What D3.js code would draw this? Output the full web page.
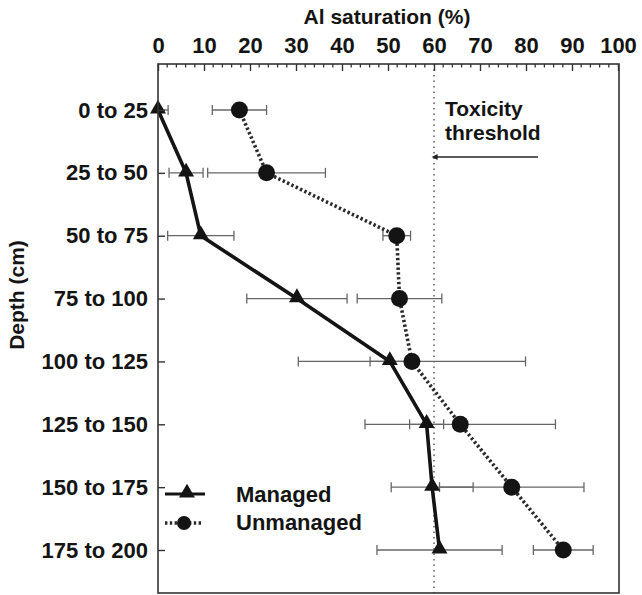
<!DOCTYPE html>
<html>
<head>
<meta charset="utf-8">
<script src="https://cdn.jsdelivr.net/npm/d3@7"></script>
<style>
  html, body { margin: 0; padding: 0; background: #fff; }
  svg { display: block; font-family: "Liberation Sans", Arial, Helvetica, sans-serif; font-weight: bold; }
</style>
</head>
<body>
<svg id="chart" width="642" height="595"></svg>
<script>
// Depth classes (cm)
const depths = ["0 to 25", "25 to 50", "50 to 75", "75 to 100",
                "100 to 125", "125 to 150", "150 to 175", "175 to 200"];
// Al saturation (%) and error
const managed      = [0, 6.1, 9.3, 30.2, 50.4, 58.4, 59.6, 61.2];
const managedErr   = [2.2, 3.7, 7.2, 10.9, 4.3, 3.7, 8.9, 13.6];
const unmanaged    = [17.7, 23.6, 51.9, 52.5, 55.2, 65.7, 76.9, 88.1];
const unmanagedErr = [5.9, 12.8, 3.0, 9.2, 24.7, 20.7, 15.7, 6.5];
const xTicks = [0, 10, 20, 30, 40, 50, 60, 70, 80, 90, 100];
const threshold = 60;

const svg = d3.select("#chart");
const frame = { left: 158, right: 619, top: 64, bottom: 593 };

const x = d3.scaleLinear().domain([0, 100]).range([158, 618]);
const y = d3.scalePoint().domain(depths).range([110, 550]);

const ink = "#141414";
const fontSize = 22;

// error bars (drawn first so markers sit on top)
function errorBars(vals, errs, cls) {
  const g = svg.append("g").attr("class", cls)
    .attr("stroke", "#666").attr("stroke-width", 1.3).attr("fill", "none");
  depths.forEach((d, i) => {
    const lo = Math.max(0, vals[i] - errs[i]);
    const hi = vals[i] + errs[i];
    const yy = y(d);
    g.append("line").attr("x1", x(lo)).attr("x2", x(hi)).attr("y1", yy).attr("y2", yy);
    if (vals[i] - errs[i] > 0)
      g.append("line").attr("x1", x(lo)).attr("x2", x(lo)).attr("y1", yy - 5).attr("y2", yy + 5);
    g.append("line").attr("x1", x(hi)).attr("x2", x(hi)).attr("y1", yy - 5).attr("y2", yy + 5);
  });
}

// toxicity threshold
svg.append("line")
  .attr("x1", x(threshold)).attr("x2", x(threshold))
  .attr("y1", frame.top).attr("y2", frame.bottom)
  .attr("stroke", "#555").attr("stroke-width", 1.4)
  .attr("stroke-dasharray", "1.5 4");

errorBars(managed, managedErr, "err-managed");
errorBars(unmanaged, unmanagedErr, "err-unmanaged");

// unmanaged series: dotted line + circles
const lineU = d3.line().x((d, i) => x(d)).y((d, i) => y(depths[i]));
svg.append("path").datum(unmanaged)
  .attr("d", lineU).attr("fill", "none")
  .attr("stroke", "#2a2a2a").attr("stroke-width", 3.6)
  .attr("stroke-dasharray", "2.4 2.4");
svg.append("g").selectAll("circle").data(unmanaged).join("circle")
  .attr("cx", d => x(d)).attr("cy", (d, i) => y(depths[i]))
  .attr("r", 8.5).attr("fill", ink);

// managed series: solid line + triangles
svg.append("path").datum(managed)
  .attr("d", lineU).attr("fill", "none")
  .attr("stroke", ink).attr("stroke-width", 3.6).attr("stroke-linejoin", "round");
const tri = d3.symbol().type(d3.symbolTriangle).size(110);
svg.append("g").selectAll("path").data(managed).join("path")
  .attr("d", tri)
  .attr("transform", (d, i) => `translate(${x(d)},${y(depths[i]) - 1})`)
  .attr("fill", ink);

// frame
svg.append("rect")
  .attr("x", frame.left).attr("y", frame.top)
  .attr("width", frame.right - frame.left).attr("height", frame.bottom - frame.top)
  .attr("fill", "none").attr("stroke", "#333").attr("stroke-width", 1.6);

// top axis: major ticks every 10, minor every 2
const minor = d3.range(0, 101, 2).filter(v => v % 10 !== 0);
svg.append("g").attr("stroke", "#333").attr("stroke-width", 1.3)
  .selectAll("line").data(minor).join("line")
  .attr("x1", d => x(d)).attr("x2", d => x(d))
  .attr("y1", frame.top).attr("y2", frame.top + 3.5);
const xAxis = d3.axisTop(x).tickValues(xTicks).tickSize(-7).tickPadding(11).tickFormat(d3.format("d"));
const gx = svg.append("g").attr("transform", `translate(0,${frame.top})`).call(xAxis);
gx.select(".domain").remove();
gx.selectAll(".tick line").attr("stroke", "#333").attr("stroke-width", 1.4);
gx.selectAll(".tick text").attr("fill", ink).attr("font-size", fontSize)
  .attr("font-family", "Liberation Sans, Arial, sans-serif").attr("font-weight", "bold");

// left axis: inward ticks with depth labels
const yAxis = d3.axisLeft(y).tickSize(-7).tickPadding(10);
const gy = svg.append("g").attr("transform", `translate(${frame.left},0)`).call(yAxis);
gy.select(".domain").remove();
gy.selectAll(".tick line").attr("stroke", "#333").attr("stroke-width", 1.4);
gy.selectAll(".tick text").attr("fill", ink).attr("font-size", fontSize)
  .attr("font-family", "Liberation Sans, Arial, sans-serif").attr("font-weight", "bold");

// axis titles
svg.append("text").attr("x", 387).attr("y", 24)
  .attr("text-anchor", "middle").attr("font-size", 21).attr("fill", ink)
  .text("Al saturation (%)");
svg.append("text").attr("transform", "translate(24,295) rotate(-90)")
  .attr("text-anchor", "middle").attr("font-size", 21).attr("fill", ink)
  .text("Depth (cm)");

// threshold annotation
svg.append("text").attr("x", 445).attr("y", 116).attr("font-size", 21).attr("fill", ink).text("Toxicity");
svg.append("text").attr("x", 445).attr("y", 140).attr("font-size", 21).attr("fill", ink).text("threshold");
svg.append("defs").append("marker")
  .attr("id", "arrowhead").attr("viewBox", "0 0 10 10")
  .attr("refX", 1).attr("refY", 5).attr("markerWidth", 10).attr("markerHeight", 6)
  .attr("markerUnits", "userSpaceOnUse").attr("orient", "auto-start-reverse")
  .append("path").attr("d", "M0,0 L10,5 L0,10 Z").attr("fill", "#222");
svg.append("line")
  .attr("x1", 538).attr("x2", 437).attr("y1", 157).attr("y2", 157)
  .attr("stroke", "#222").attr("stroke-width", 1.5)
  .attr("marker-end", "url(#arrowhead)");

// legend
const leg = svg.append("g");
leg.append("line").attr("x1", 165).attr("x2", 205).attr("y1", 494).attr("y2", 494)
  .attr("stroke", ink).attr("stroke-width", 3);
leg.append("path").attr("d", tri).attr("transform", "translate(187,493)").attr("fill", ink);
leg.append("line").attr("x1", 165).attr("x2", 203).attr("y1", 523).attr("y2", 523)
  .attr("stroke", "#2a2a2a").attr("stroke-width", 3.4).attr("stroke-dasharray", "2.4 2.4");
leg.append("circle").attr("cx", 184).attr("cy", 523).attr("r", 7).attr("fill", ink);
leg.append("text").attr("x", 236).attr("y", 502).attr("font-size", 22).attr("fill", ink).text("Managed");
leg.append("text").attr("x", 236).attr("y", 530).attr("font-size", 22).attr("fill", ink).text("Unmanaged");
</script>
</body>
</html>
